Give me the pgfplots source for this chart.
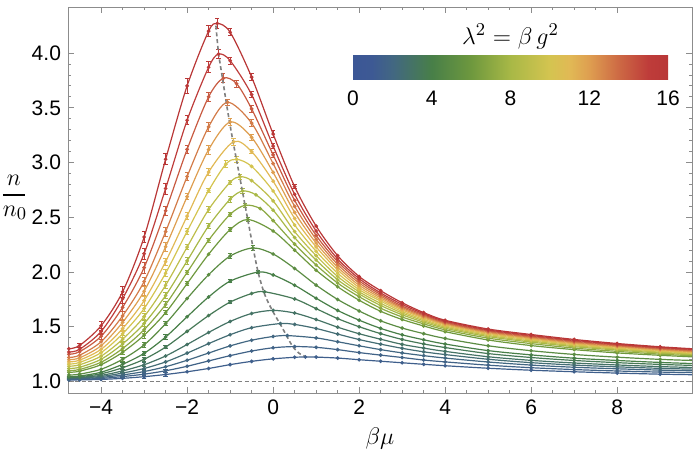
\documentclass[border=0pt]{standalone}
\usepackage{pgfplots}
\pgfplotsset{compat=1.18}
\usepackage{fontspec}
\setmainfont{Liberation Sans}

% line colours sampled from the dark-rainbow scale, indexed by lambda^2
\definecolor{lamA}{RGB}{63,95,140}    % 1
\definecolor{lamB}{RGB}{65,99,135}    % 1.5
\definecolor{lamC}{RGB}{66,103,130}   % 2
\definecolor{lamD}{RGB}{68,109,116}   % 2.5
\definecolor{lamE}{RGB}{69,115,101}   % 3
\definecolor{lamF}{RGB}{71,121,87}    % 3.5
\definecolor{lamG}{RGB}{72,127,72}    % 4
\definecolor{lamH}{RGB}{91,140,67}    % 5
\definecolor{lamI}{RGB}{110,152,62}   % 6
\definecolor{lamJ}{RGB}{139,168,66}   % 7
\definecolor{lamK}{RGB}{168,184,70}   % 8
\definecolor{lamL}{RGB}{190,190,75}   % 9
\definecolor{lamM}{RGB}{212,196,80}   % 10
\definecolor{lamN}{RGB}{225,185,85}   % 11
\definecolor{lamO}{RGB}{222,158,80}   % 12
\definecolor{lamP}{RGB}{211,123,72}   % 13
\definecolor{lamQ}{RGB}{200,90,65}    % 14
\definecolor{lamR}{RGB}{190,60,58}    % 15
\definecolor{lamS}{RGB}{185,55,55}    % 16

% TikZ maps the middle 50bp of a declared shading onto the path
\pgfdeclarehorizontalshading{darkrainbow}{100bp}{%
  rgb(0bp)=(0.235,0.341,0.588);
  rgb(25bp)=(0.235,0.341,0.588);
  rgb(28bp)=(0.240,0.350,0.580);
  rgb(31.25bp)=(0.259,0.404,0.510);
  rgb(37.5bp)=(0.282,0.498,0.282);
  rgb(43.75bp)=(0.431,0.596,0.243);
  rgb(50bp)=(0.659,0.722,0.275);
  rgb(56.25bp)=(0.831,0.769,0.314);
  rgb(59.375bp)=(0.882,0.725,0.333);
  rgb(62.5bp)=(0.871,0.620,0.314);
  rgb(67.19bp)=(0.804,0.412,0.267);
  rgb(71.875bp)=(0.745,0.235,0.227);
  rgb(75bp)=(0.725,0.216,0.216);
  rgb(100bp)=(0.725,0.216,0.216)}

\pgfplotsset{
  curve/.style={color=#1, line width=0.6pt, smooth, mark=*, mark size=0.6pt,
    mark options={solid, fill=#1},
    error bars/.cd, y dir=both, y explicit,
      error bar style={line width=0.45pt, solid},
      error mark options={rotate=90, mark size=1.1pt, line width=0.45pt}},
}

\begin{document}
\begin{tikzpicture}
\useasboundingbox (-34pt,-31.5pt) rectangle (313.5pt,196.5pt);
\begin{axis}[
  at={(0,0)}, anchor=south west,
  scale only axis, width=312pt, height=193pt,
  xmin=-4.77, xmax=9.74, ymin=0.896, ymax=4.42,
  xtick={-4,-2,0,2,4,6,8},
  xticklabels={−4,−2,0,2,4,6,8},
  ytick={1,1.5,2,2.5,3,3.5,4},
  yticklabels={1.0,1.5,2.0,2.5,3.0,3.5,4.0},
  minor x tick num=3, minor y tick num=4,
  tick align=inside, major tick length=3pt, minor tick length=1.6pt,
  axis line style={black!45, line width=0.5pt},
  tick style={black!45, line width=0.4pt},
  tick label style={font=\fontsize{10.5}{12}\selectfont, text=black},
  xlabel={$\beta\mu$},
  xlabel style={at={(axis description cs:0.5,0)}, anchor=center, yshift=-22.5pt,
    font=\fontsize{13}{15}\selectfont},
  clip=true,
]
% lambda^2 = 1
\addplot[curve=lamA] coordinates {(-4.75,1.015) (-4.5,1.016) (-4,1.02) (-3.5,1.03) (-3,1.045) +- (0,0.012) (-2.5,1.065) +- (0,0.015) (-2,1.09) (-1.5,1.12) (-1,1.155) (-0.5,1.185) (0,1.208) (0.5,1.222) (0.75,1.225) (1,1.224) (1.5,1.215) (2,1.20) (2.5,1.186) (3,1.172) (3.5,1.158) (4,1.145) (5,1.122) (6,1.104) (7,1.09) (8,1.078) (9,1.068) (9.75,1.063)};
% lambda^2 = 1.5
\addplot[curve=lamB] coordinates {(-4.75,1.02) (-4.5,1.022) (-4,1.029) (-3.5,1.046) +- (0,0.012) (-3,1.068) +- (0,0.015) (-2.5,1.099) +- (0,0.015) (-2,1.14) (-1.5,1.189) (-1,1.237) (-0.5,1.279) (0,1.309) (0.5,1.32) (1,1.313) (1.5,1.292) (2,1.265) (2.5,1.242) (3,1.22) (3.5,1.197) (4,1.18) (5,1.15) (6,1.127) (7,1.11) (8,1.097) (9,1.087) (9.75,1.082)};
% lambda^2 = 2
\addplot[curve=lamC] coordinates {(-4.75,1.025) (-4.5,1.027) (-4,1.038) (-3.5,1.061) +- (0,0.012) (-3,1.092) +- (0,0.015) (-2.5,1.136) (-2,1.195) (-1.5,1.261) (-1,1.326) (-0.5,1.378) (0,1.412) (0.33,1.42) (1,1.399) (1.5,1.364) (2,1.327) (2.5,1.292) (3,1.262) (3.5,1.237) (4,1.215) (5,1.179) (6,1.151) (7,1.131) (8,1.117) (9,1.105) (9.75,1.099)};
% lambda^2 = 2.5
\addplot[curve=lamD] coordinates {(-4.75,1.03) (-4.5,1.033) (-4,1.047) (-3.5,1.078) (-3,1.12) +- (0,0.015) (-2.5,1.18) (-2,1.26) (-1.5,1.347) (-1,1.428) (-0.5,1.492) (0.17,1.53) (0.5,1.522) (1,1.485) (1.5,1.434) (2,1.384) (2.5,1.342) (3,1.304) (3.5,1.272) (4,1.247) (5,1.204) (6,1.173) (7,1.151) (8,1.135) (9,1.121) (9.75,1.114)};
% lambda^2 = 3
\addplot[curve=lamE] coordinates {(-4.75,1.035) (-4.5,1.039) (-4,1.057) (-3.5,1.098) +- (0,0.015) (-3,1.154) +- (0,0.018) (-2.5,1.234) (-2,1.339) (-1.5,1.449) (-1,1.549) (-0.5,1.622) (0,1.65) (0.5,1.626) (1,1.567) (1.5,1.497) (2,1.437) (2.5,1.387) (3,1.34) (3.5,1.306) (4,1.276) (5,1.227) (6,1.194) (7,1.17) (8,1.152) (9,1.137) (9.75,1.129)};
% lambda^2 = 3.5
\addplot[curve=lamF] coordinates {(-4.75,1.04) (-4.5,1.045) (-4,1.071) (-3.5,1.127) +- (0,0.015) (-3,1.204) +- (0,0.02) (-2.5,1.315) +- (0,0.015) (-2,1.459) (-1.5,1.603) (-1,1.726) +- (0,0.015) (-0.5,1.804) (-0.2,1.82) (0.5,1.755) (1,1.666) (1.5,1.575) (2,1.501) (2.5,1.438) (3,1.385) (3.5,1.344) (4,1.311) (5,1.256) (6,1.22) (7,1.193) (8,1.173) (9,1.157) (9.75,1.148)};
% lambda^2 = 4
\addplot[curve=lamG] coordinates {(-4.75,1.045) (-4.5,1.051) (-4,1.086) (-3.5,1.158) +- (0,0.015) (-3,1.258) +- (0,0.02) (-2.5,1.407) +- (0,0.02) (-2,1.592) (-1.5,1.773) (-1,1.917) +- (0,0.015) (-0.35,2.0) +- (0,0.015) (0,1.974) (0.5,1.88) (1,1.761) (1.5,1.65) (2,1.561) (2.5,1.486) (3,1.427) (3.5,1.382) (4,1.343) (5,1.283) (6,1.244) (7,1.214) (8,1.193) (9,1.175) (9.75,1.165)};
% lambda^2 = 5
\addplot[curve=lamH] coordinates {(-4.75,1.06) (-4.5,1.068) (-4,1.113) (-3.5,1.204) +- (0,0.02) (-3,1.335) +- (0,0.02) (-2.5,1.529) +- (0,0.02) (-2,1.759) (-1.5,1.976) (-1,2.146) +- (0,0.02) (-0.47,2.22) +- (0,0.02) (0,2.165) (0.5,2.033) (1,1.881) (1.5,1.75) (2,1.645) (2.5,1.555) (3,1.489) (3.5,1.438) (4,1.394) (5,1.327) (6,1.282) (7,1.248) (8,1.223) (9,1.203) (9.75,1.193)};
% lambda^2 = 6
\addplot[curve=lamI] coordinates {(-4.75,1.085) (-4.5,1.095) (-4,1.155) (-3.5,1.268) +- (0,0.02) (-3,1.424) +- (0,0.03) (-2.5,1.629) +- (0,0.02) (-2,1.895) +- (0,0.02) (-1.5,2.163) (-1,2.388) +- (0,0.02) (-0.59,2.48) +- (0,0.02) (0,2.375) (0.5,2.20) (1,2.017) (1.5,1.866) (2,1.743) (2.5,1.642) (3,1.567) (3.5,1.508) (4,1.456) (5,1.38) (6,1.329) (7,1.292) (8,1.262) (9,1.24) (9.75,1.226)};
% lambda^2 = 7
\addplot[curve=lamJ] coordinates {(-4.75,1.10) (-4.5,1.111) (-4,1.177) (-3.5,1.302) +- (0,0.02) (-3,1.474) +- (0,0.03) (-2.5,1.704) +- (0,0.03) (-2,1.997) +- (0,0.02) (-1.5,2.291) +- (0,0.02) (-1,2.527) +- (0,0.02) (-0.65,2.61) +- (0,0.02) (-0.3,2.58) (0,2.47) (0.5,2.255) (1,2.065) (1.5,1.90) (2,1.775) (2.5,1.67) (3,1.59) (3.5,1.527) (4,1.473) (5,1.397) (6,1.347) (7,1.306) (8,1.276) (9,1.251) (9.75,1.236)};
% lambda^2 = 8
\addplot[curve=lamK] coordinates {(-4.75,1.12) (-4.5,1.131) (-4,1.204) (-3.5,1.344) +- (0,0.02) (-3,1.53) +- (0,0.03) (-2.5,1.786) +- (0,0.03) (-2,2.102) +- (0,0.03) (-1.5,2.421) +- (0,0.02) (-1,2.665) +- (0,0.03) (-0.71,2.74) +- (0,0.02) (-0.4,2.705) (0,2.565) (0.5,2.315) (1,2.11) (1.5,1.93) (2,1.80) (2.5,1.695) (3,1.61) (3.5,1.543) (4,1.487) (5,1.411) (6,1.361) (7,1.319) (8,1.288) (9,1.261) (9.75,1.245)};
% lambda^2 = 9
\addplot[curve=lamL] coordinates {(-4.75,1.14) (-4.5,1.154) (-4,1.233) (-3.5,1.387) +- (0,0.03) (-3,1.593) +- (0,0.03) (-2.5,1.88) +- (0,0.03) (-2,2.228) +- (0,0.02) (-1.5,2.571) +- (0,0.03) (-1,2.82) +- (0,0.02) (-0.77,2.87) +- (0,0.02) (-0.5,2.835) (0,2.65) (0.5,2.37) (1,2.15) (1.5,1.96) (2,1.82) (2.5,1.715) (3,1.626) (3.5,1.556) (4,1.498) (5,1.421) (6,1.371) (7,1.328) (8,1.297) (9,1.269) (9.75,1.252)};
% lambda^2 = 10
\addplot[curve=lamM] coordinates {(-4.75,1.16) (-4.5,1.175) (-4,1.265) (-3.5,1.437) +- (0,0.03) (-3,1.667) +- (0,0.03) (-2.5,1.99) +- (0,0.03) (-2,2.372) +- (0,0.03) (-1.5,2.744) +- (0,0.02) (-1.1,2.985) +- (0,0.03) (-0.85,3.03) +- (0,0.03) (-0.5,2.965) (0,2.74) (0.5,2.43) (1,2.19) (1.5,1.99) (2,1.84) (2.5,1.735) (3,1.64) (3.5,1.568) (4,1.508) (5,1.431) (6,1.381) (7,1.337) (8,1.305) (9,1.277) (9.75,1.259)};
% lambda^2 = 11
\addplot[curve=lamN] coordinates {(-4.75,1.18) (-4.5,1.196) (-4,1.295) (-3.5,1.484) +- (0,0.03) (-3,1.739) +- (0,0.04) (-2.5,2.095) +- (0,0.03) (-2,2.511) +- (0,0.03) (-1.5,2.913) +- (0,0.03) (-0.92,3.19) +- (0,0.03) (-0.5,3.10) +- (0,0.02) (0,2.83) (0.5,2.49) (1,2.23) (1.5,2.02) (2,1.86) (2.5,1.75) (3,1.654) (3.5,1.58) (4,1.518) (5,1.44) (6,1.39) (7,1.345) (8,1.313) (9,1.284) (9.75,1.266)};
% lambda^2 = 12
\addplot[curve=lamO] coordinates {(-4.75,1.20) (-4.5,1.217) (-4,1.328) (-3.5,1.541) +- (0,0.03) (-3,1.825) +- (0,0.04) (-2.5,2.231) +- (0,0.04) (-2,2.689) +- (0,0.03) (-1.5,3.118) +- (0,0.04) (-1.0,3.37) +- (0,0.03) (-0.5,3.23) +- (0,0.03) (0,2.91) (0.5,2.545) (1,2.265) (1.5,2.045) (2,1.88) (2.5,1.765) (3,1.666) (3.5,1.59) (4,1.527) (5,1.448) (6,1.398) (7,1.353) (8,1.32) (9,1.291) (9.75,1.273)};
% lambda^2 = 13
\addplot[curve=lamP] coordinates {(-4.75,1.22) (-4.5,1.241) (-4,1.364) (-3.5,1.60) +- (0,0.04) (-3,1.914) +- (0,0.04) (-2.5,2.369) +- (0,0.04) (-2,2.872) +- (0,0.04) (-1.5,3.326) +- (0,0.04) (-1.06,3.55) +- (0,0.03) (-0.5,3.36) +- (0,0.03) (0,2.99) (0.5,2.60) (1,2.30) (1.5,2.07) (2,1.90) (2.5,1.78) (3,1.678) (3.5,1.60) (4,1.535) (5,1.456) (6,1.406) (7,1.361) (8,1.327) (9,1.298) (9.75,1.28)};
% lambda^2 = 14
\addplot[curve=lamQ] coordinates {(-4.75,1.25) (-4.5,1.273) (-4,1.414) +- (0,0.03) (-3.5,1.678) +- (0,0.04) (-3,2.041) +- (0,0.05) (-2.5,2.56) +- (0,0.04) (-2,3.12) +- (0,0.04) (-1.5,3.60) +- (0,0.04) (-1.16,3.77) +- (0,0.04) (-0.85,3.72) +- (0,0.03) (-0.5,3.49) +- (0,0.03) (0,3.07) +- (0,0.02) (0.5,2.655) (1,2.335) (1.5,2.095) (2,1.92) (2.5,1.795) (3,1.69) (3.5,1.61) (4,1.543) (5,1.464) (6,1.414) (7,1.369) (8,1.334) (9,1.305) (9.75,1.287)};
% lambda^2 = 15
\addplot[curve=lamR] coordinates {(-4.75,1.27) (-4.5,1.295) (-4,1.458) +- (0,0.03) (-3.5,1.757) +- (0,0.04) (-3,2.168) +- (0,0.05) (-2.5,2.763) +- (0,0.05) (-2,3.386) +- (0,0.04) (-1.5,3.87) +- (0,0.05) (-1.27,3.99) +- (0,0.04) (-1,3.93) +- (0,0.03) (-0.5,3.62) +- (0,0.03) (0,3.15) +- (0,0.02) (0.5,2.71) (1,2.375) (1.5,2.12) (2,1.94) (2.5,1.81) (3,1.705) (3.5,1.62) (4,1.552) (5,1.472) (6,1.422) (7,1.377) (8,1.341) (9,1.312) (9.75,1.294)};
% lambda^2 = 16
\addplot[curve=lamS] coordinates {(-4.75,1.30) (-4.5,1.33) +- (0,0.02) (-4,1.51) +- (0,0.04) (-3.5,1.82) +- (0,0.05) (-3,2.32) +- (0,0.05) (-2.5,3.03) +- (0,0.05) (-2,3.70) +- (0,0.07) (-1.5,4.20) +- (0,0.05) (-1.3,4.27) +- (0,0.05) (-1,4.19) +- (0,0.03) (-0.5,3.78) +- (0,0.03) (0,3.26) +- (0,0.03) (0.5,2.78) +- (0,0.02) (1,2.42) (1.5,2.15) (2,1.96) (2.5,1.83) (3,1.72) (3.5,1.63) (4,1.56) (5,1.48) (6,1.43) (7,1.385) (8,1.348) (9,1.318) (9.75,1.30)};
% free gas reference and locus of the maxima
\addplot[black!50, line width=0.8pt, dash pattern=on 2pt off 1.4pt, mark=none]
  coordinates {(-4.77,1) (9.74,1)};
\addplot[black!50, line width=0.8pt, dash pattern=on 2pt off 1.4pt, mark=none, smooth]
  coordinates {(-1.33,4.25) (-1.27,4.0) (-1.17,3.75) (-1.07,3.5) (-0.96,3.25) (-0.84,3.0) (-0.72,2.75) (-0.6,2.5) (-0.48,2.25) (-0.35,2.0) (-0.2,1.8) (-0.02,1.65) (0.2,1.5) (0.44,1.33) (0.6,1.26) (0.74,1.23)};
\end{axis}

% colour scale for lambda^2
\begin{axis}[
  at={(142.5pt,157pt)}, anchor=south west,
  scale only axis, width=157.5pt, height=12pt,
  xmin=0, xmax=16, ymin=0, ymax=1,
  xtick={0,4,8,12,16}, xticklabels={0,4,8,12,16}, ytick=\empty,
  axis line style={draw=none}, major tick length=0pt,
  xticklabel style={font=\fontsize{10.5}{12}\selectfont, yshift=-2.5pt},
  title={$\lambda^2=\beta\,g^2$},
  title style={at={(axis description cs:0.5,1)}, anchor=south, yshift=-6.5pt,
    font=\fontsize{13}{15}\selectfont},
]
\shade[shading=darkrainbow] (axis cs:0,0) rectangle (axis cs:16,1);
\end{axis}

% vertical axis label n / n_0
\node[font=\fontsize{13}{15}\selectfont] at (-27pt,106.5pt) {$n$};
\draw[line width=0.55pt] (-32.5pt,99pt) -- (-21.5pt,99pt);
\node[font=\fontsize{13}{15}\selectfont] at (-26.5pt,90pt) {$n_0$};
\end{tikzpicture}
\end{document}
